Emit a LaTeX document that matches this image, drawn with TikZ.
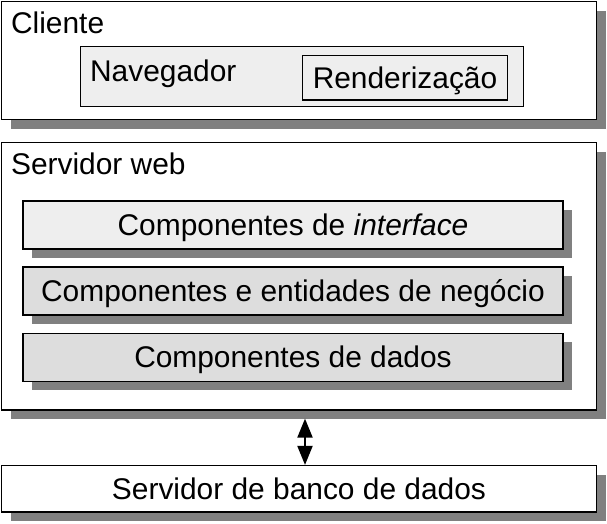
\documentclass[tikz,border=0pt]{standalone}
\usepackage{fontspec}
\setmainfont{Liberation Sans}
\usetikzlibrary{shadows,arrows.meta}
\definecolor{lightbox}{HTML}{EEEEEE}
\definecolor{darkbox}{HTML}{DDDDDD}
\definecolor{shadowgray}{HTML}{808080}

\begin{document}
\begin{tikzpicture}[x=1pt,y=-1pt,font=\fontsize{29.9}{36}\selectfont,line width=1.2pt,
    tier/.style={draw,fill=white,inner sep=0pt,text height=21pt,text depth=0pt,
      drop shadow={shadow xshift=9pt,shadow yshift=-9pt,fill=shadowgray,opacity=1}},
    layer/.style={tier,minimum width=540pt,minimum height=48pt},
    inbox/.style={draw,fill=lightbox,inner sep=0pt,text height=21pt,text depth=0pt},
    title/.style={anchor=base west,inner sep=0pt}]
    \useasboundingbox (0,0) rectangle (607,523);
    \node[tier,minimum width=595pt,minimum height=118pt] (cliente) at (299,60.5) {};
    \node[title] (clientetxt) at (10.5,33) {Cliente};
    \node[inbox,minimum width=443pt,minimum height=60pt] (navegador) at (302,76.5) {};
    \node[title] (navegadortxt) at (89.5,81.7) {Navegador};
    \node[inbox,minimum width=205pt,minimum height=44.5pt] (render) at (405,77.75) {Renderização};

    \node[tier,minimum width=595pt,minimum height=267.5pt] (web) at (299,276.25) {};
    \node[title] (webtxt) at (10.5,174) {Servidor web};
    \node[layer,fill=lightbox] (interface) at (293,225) {Componentes de \textit{interface}};
    \node[layer,fill=darkbox] (negocio) at (293,291) {Componentes e entidades de negócio};
    \node[layer,fill=darkbox] (dados) at (293,357.25) {Componentes de dados};

    \node[tier,minimum width=595pt,minimum height=46.5pt] (banco) at (299,488.75) {Servidor de banco de dados};
    \draw[line width=2pt,{Triangle[length=19pt,width=15pt]}-{Triangle[length=19pt,width=15pt]}]
      ([xshift=6pt,yshift=-8pt]web.south) -- ([xshift=6pt]banco.north);
  \end{tikzpicture}
\end{document}
